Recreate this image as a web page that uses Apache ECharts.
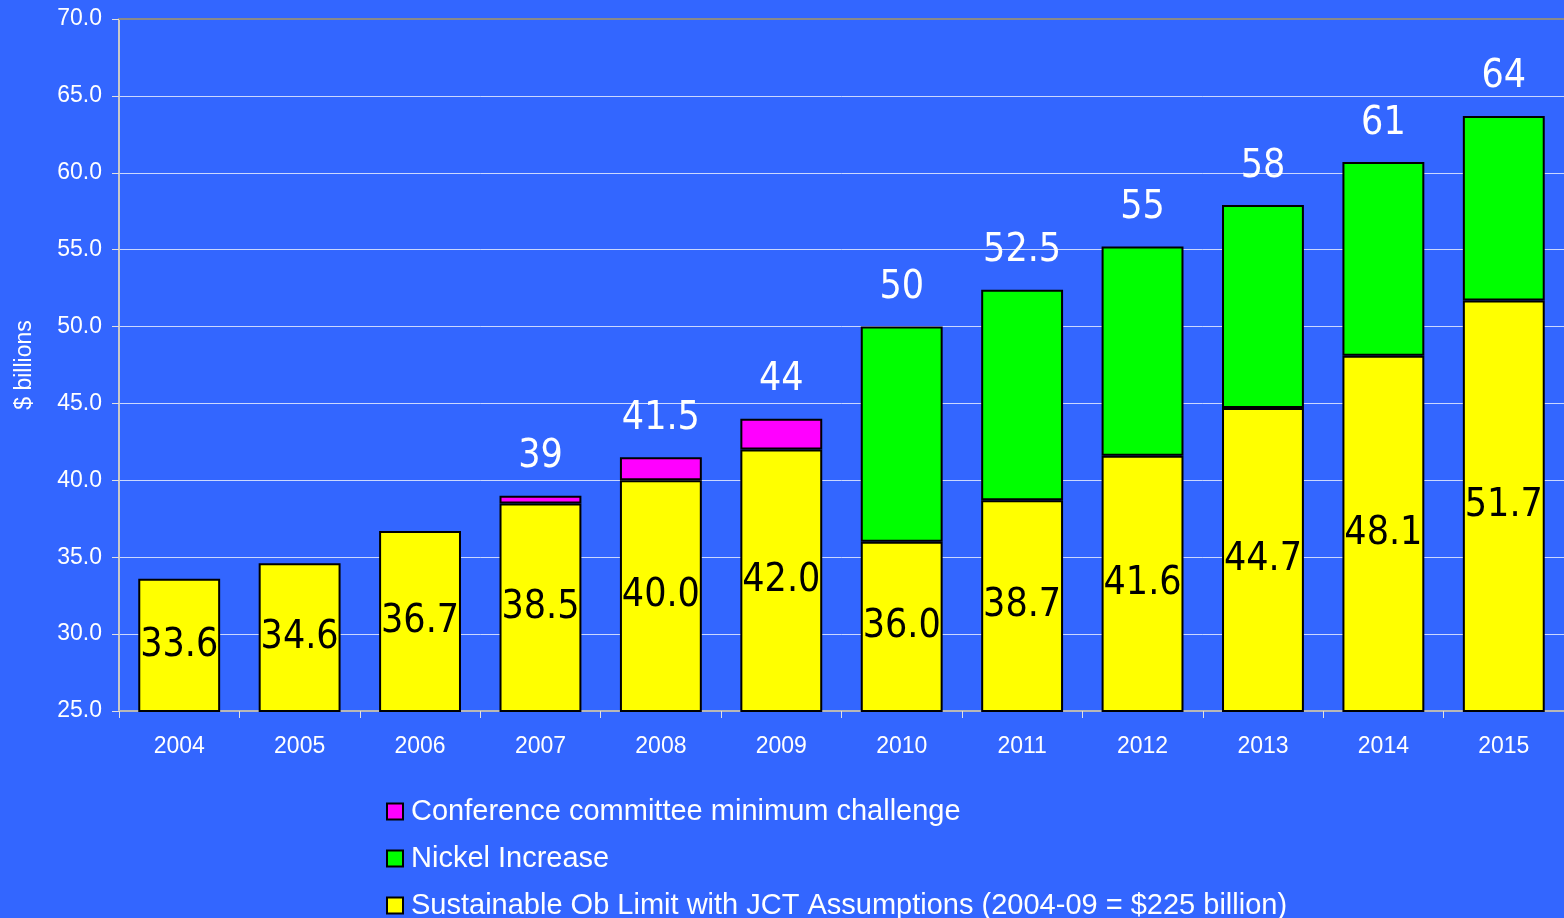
<!DOCTYPE html>
<html>
<head>
<meta charset="utf-8">
<script src="https://cdn.jsdelivr.net/npm/echarts@6/dist/echarts.min.js"></script>
<style>
  html, body { margin: 0; padding: 0; background: #3366ff; }
  #chart { width: 1564px; height: 918px; }
</style>
</head>
<body>
<div id="chart"></div>
<script>
// data
const years = ['2004', '2005', '2006', '2007', '2008', '2009', '2010', '2011', '2012', '2013', '2014', '2015'];
const sustainable = [33.6, 34.6, 36.7, 38.5, 40.0, 42.0, 36.0, 38.7, 41.6, 44.7, 48.1, 51.7];
const conference = [0, 0, 0, 0.5, 1.5, 2.0, 0, 0, 0, 0, 0, 0];
const nickel = [0, 0, 0, 0, 0, 0, 14.0, 13.7, 13.6, 13.2, 12.6, 12.0];
const totalLabels = ['', '', '', '39', '41.5', '44', '50', '52.5', '55', '58', '61', '64'];
const yTicks = { min: 25, max: 70, interval: 5 };

const seriesNames = {
    conference: 'Conference committee minimum challenge',
    nickel: 'Nickel Increase',
    sustainable: 'Sustainable Ob Limit with JCT Assumptions (2004-09 = $225 billion)'
};

const chart = echarts.init(document.getElementById('chart'), null, { renderer: 'canvas' });

// stack tops, only used to place the total labels
const stackTops = years.map((_, i) => {
    if (!totalLabels[i]) return null;
    return +(sustainable[i] + conference[i] + nickel[i]).toFixed(2);
});

const narrow = "'Liberation Sans Narrow', 'DejaVu Sans Condensed', 'Liberation Sans', sans-serif";
const sans = "'Liberation Sans', Arial, sans-serif";

const barBorder = { borderColor: '#000', borderWidth: 2 };

const option = {
    backgroundColor: '#3366ff',
    animation: false,
    grid: { left: 119, right: 0, top: 19, bottom: 207 },
    legend: {
        orient: 'vertical',
        left: 381,
        top: 792,
        height: 200,
        itemWidth: 16,
        itemHeight: 16,
        itemGap: 18,
        icon: 'rect',
        data: [seriesNames.conference, seriesNames.nickel, seriesNames.sustainable],
        textStyle: { color: '#fff', fontSize: 29, fontFamily: sans, padding: [0, 0, 0, 3] }
    },
    xAxis: [{
        type: 'category',
        data: years,
        axisLine: { lineStyle: { color: '#b8b8b8', width: 2 } },
        axisTick: { show: true, length: 7, lineStyle: { color: '#e0e0e0' } },
        axisLabel: { color: '#fff', fontSize: 23, fontFamily: sans, margin: 24 }
    }, {
        type: 'category',
        data: years,
        position: 'top',
        axisLine: { lineStyle: { color: '#8a8a8a', width: 2 } },
        axisTick: { show: false },
        axisLabel: { show: false }
    }],
    yAxis: {
        type: 'value',
        min: yTicks.min,
        max: yTicks.max,
        interval: yTicks.interval,
        name: '$ billions',
        nameLocation: 'middle',
        nameRotate: 90,
        nameGap: 83,
        nameTextStyle: { color: '#fff', fontSize: 23, fontFamily: sans },
        axisLine: { show: true, lineStyle: { color: '#c8c8c8', width: 2 } },
        axisTick: { show: true, length: 7, lineStyle: { color: '#e0e0e0' } },
        axisLabel: {
            color: '#fff', fontSize: 23, fontFamily: sans, margin: 17,
            formatter: v => v.toFixed(1)
        },
        splitLine: { lineStyle: { color: 'rgba(255,255,255,0.75)', width: 1 } }
    },
    series: [
        {
            name: seriesNames.sustainable,
            type: 'bar',
            stack: 'total',
            barWidth: '68%',
            data: sustainable,
            itemStyle: Object.assign({ color: '#ffff00' }, barBorder),
            label: {
                show: true,
                position: 'inside',
                color: '#000',
                fontSize: 39,
                fontFamily: narrow,
                formatter: p => p.value.toFixed(1)
            }
        },
        {
            name: seriesNames.conference,
            type: 'bar',
            stack: 'total',
            data: conference.map(v => v || null),
            itemStyle: Object.assign({ color: '#ff00ff' }, barBorder)
        },
        {
            name: seriesNames.nickel,
            type: 'bar',
            stack: 'total',
            data: nickel.map(v => v || null),
            itemStyle: Object.assign({ color: '#00ff00' }, barBorder)
        },
        {
            name: 'totals',
            type: 'scatter',
            data: stackTops,
            symbolSize: 0.1,
            itemStyle: { color: '#3366ff', opacity: 1 },
            silent: true,
            label: {
                show: true,
                position: 'top',
                distance: 19,
                color: '#ffffff',
                opacity: 1,
                fontSize: 39,
                fontFamily: narrow,
                formatter: p => totalLabels[p.dataIndex]
            }
        }
    ]
};

chart.setOption(option);
</script>
</body>
</html>
